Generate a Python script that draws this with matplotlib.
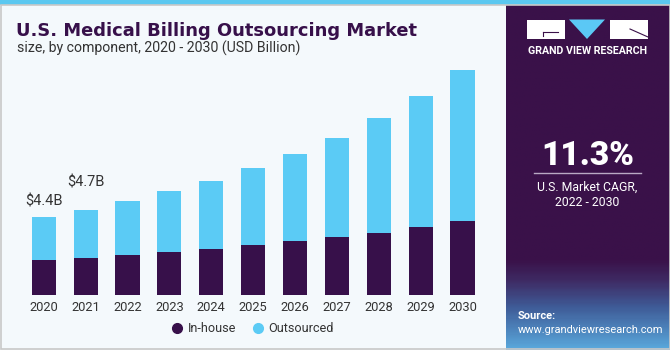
import numpy as np
import matplotlib
matplotlib.use("Agg")
import matplotlib.pyplot as plt
from matplotlib.patches import Rectangle, Polygon
from matplotlib.colors import LinearSegmentedColormap

years = ["2020", "2021", "2022", "2023", "2024", "2025", "2026", "2027", "2028", "2029", "2030"]
in_house = [2.0, 2.1, 2.26, 2.41, 2.58, 2.82, 3.05, 3.27, 3.51, 3.85, 4.17]
outsourced = [2.4, 2.7, 3.04, 3.46, 3.83, 4.33, 4.89, 5.57, 6.47, 7.35, 8.52]
label_text = ["$4.4B", "$4.7B"]
label_idx = [0, 1]

W, H = 670, 350
DARK = "#37104A"
BLUE = "#5BCBF5"
BG = "#F4F9FC"
PANEL = "#3A1149"

fig = plt.figure(figsize=(W / 100, H / 100), dpi=100)
fig.patch.set_facecolor(BG)

def fx(px):
    return px / W

def fy(py):
    return 1 - py / H

# top strip
fig.patches.append(Rectangle((0, fy(5)), 1, 5 / H, transform=fig.transFigure,
                             facecolor="#5BC8F0", edgecolor="none", zorder=0))
# outer border
fig.patches.append(Rectangle((0.0008, 0.0015), 0.9985, fy(5) - 0.0015, transform=fig.transFigure,
                             facecolor="none", edgecolor="#C8C8C8", lw=1.2, zorder=0))

# right panel with gradient
pax = fig.add_axes([fx(506), 0, fx(670) - fx(506), fy(5)])
pax.set_axis_off()
grad = np.linspace(0, 1, 300).reshape(-1, 1)
cmap = LinearSegmentedColormap.from_list(
    "p", [(0.0, PANEL), (0.74, PANEL), (0.80, "#3E2A63"), (0.88, "#3F5C98"), (1.0, "#5AA8DC")])
pax.imshow(grad, aspect="auto", cmap=cmap, extent=[0, 1, 0, 1], origin="upper")
pax.set_xlim(0, 1)
pax.set_ylim(0, 1)

# overlay in pixel coordinates
ov = fig.add_axes([0, 0, 1, 1], facecolor="none")
ov.set_xlim(0, W)
ov.set_ylim(H, 0)
ov.set_axis_off()
ov.add_patch(Rectangle((527, 19.5), 38, 19, facecolor="white", edgecolor="none"))
ov.add_patch(Polygon([[569, 19.5], [605, 19.5], [587, 39]], closed=True, facecolor="#5BC8F5", edgecolor="none"))
ov.add_patch(Rectangle((610, 19.5), 38, 19, facecolor="white", edgecolor="none"))
ov.plot([543, 558], [31.5, 31.5], color=PANEL, lw=0.8)
ov.plot([543, 543], [31.5, 36], color=PANEL, lw=0.8)
ov.plot([630, 648], [29, 37], color=PANEL, lw=0.8)
ov.text(587.5, 51, "GRAND VIEW RESEARCH", color="white", fontsize=7.7, fontweight="bold",
        ha="center", va="center", family="Roboto")
ov.text(587.5, 156, "11.3%", color="white", fontsize=24, fontweight="heavy",
        ha="center", va="center", family="Roboto")
ov.plot([534, 641], [173, 173], color="#B9A9C4", lw=1)
ov.text(587.5, 187, "U.S. Market CAGR,", color="white", fontsize=8.8,
        ha="center", va="center", family="Roboto")
ov.text(587.5, 202, "2022 - 2030", color="white", fontsize=8.8,
        ha="center", va="center", family="Roboto")
ov.text(518, 316, "Source:", color="white", fontsize=8.0, fontweight="bold",
        ha="left", va="center", family="Roboto")
ov.text(518, 330, "www.grandviewresearch.com", color="white", fontsize=7.9,
        ha="left", va="center", family="Roboto")

# titles
ov.text(16, 31, "U.S. Medical Billing Outsourcing Market", color="#37104A", fontsize=12.9,
        fontweight="bold", ha="left", va="center", family="DejaVu Sans")
ov.text(17, 48, "size, by component, 2020 - 2030 (USD Billion)", color="#333333", fontsize=10.2,
        ha="left", va="center", family="Roboto")

# bar chart axes
scale = 17.73  # px per billion
x0 = 18.6
x1 = 487.6
base = 295
top = 60
ax = fig.add_axes([fx(x0), fy(base), (x1 - x0) / W, (base - top) / H], facecolor="none")
x = np.arange(len(years))
ax.bar(x, in_house, width=0.575, color=DARK, edgecolor="none", label="In-house")
ax.bar(x, outsourced, width=0.575, bottom=in_house, color=BLUE, edgecolor="none", label="Outsourced")
ax.set_xlim(-0.6, len(years) - 0.4)
ax.set_ylim(0, (base - top) / scale)
label_gap = [0.5, 1.15]
for k, i in enumerate(label_idx):
    ax.text(x[i] - 0.45, in_house[i] + outsourced[i] + label_gap[k], label_text[k], fontsize=10.5,
            color="#333333", ha="left", va="bottom", family="Roboto")
ax.set_xticks(x)
ax.set_xticklabels(years, fontsize=9.3, color="#333333", family="Roboto")
ax.tick_params(axis="x", length=0, pad=4)
ax.set_yticks([])
for s in ax.spines.values():
    s.set_visible(False)

handles = [plt.Line2D([], [], marker="o", ls="none", color=DARK, markersize=7),
           plt.Line2D([], [], marker="o", ls="none", color=BLUE, markersize=7)]
leg = fig.legend(handles=handles, labels=["In-house", "Outsourced"], loc="center",
                 bbox_to_anchor=(fx(253), fy(329)), ncol=2, frameon=False,
                 handlelength=0.8, handletextpad=0.45, columnspacing=1.3,
                 prop={"family": "Roboto", "size": 9.1})
for t in leg.get_texts():
    t.set_color("#333333")

fig.savefig("out.png", dpi=100, facecolor=fig.get_facecolor())
